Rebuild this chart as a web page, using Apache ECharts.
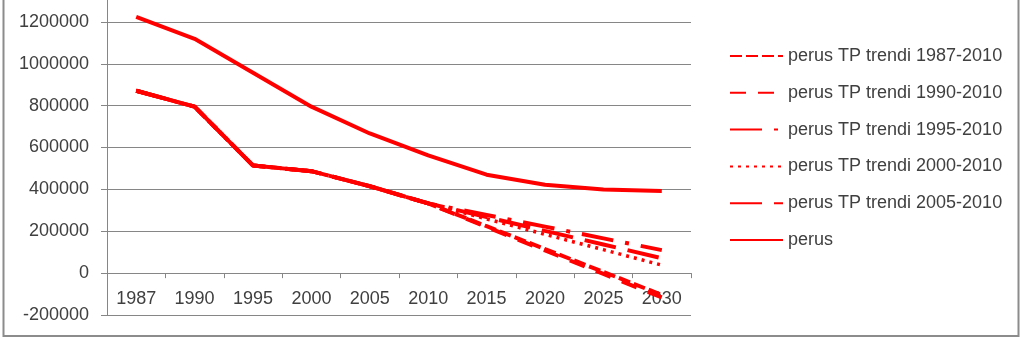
<!DOCTYPE html>
<html>
<head>
<meta charset="utf-8">
<script src="https://cdn.jsdelivr.net/npm/echarts@6/dist/echarts.min.js"></script>
<style>
html,body{margin:0;padding:0;background:#fff;}
#c{width:1024px;height:338px;}
</style>
</head>
<body>
<div id="c"></div>
<script>
const years = ['1987','1990','1995','2000','2005','2010','2015','2020','2025','2030'];
const perus = [1224000,1119000,957000,795000,667000,562000,470000,422000,399000,392000];
const trend1987 = [871000,795000,514000,487000,415000,333000,224000,115000,6000,-104000];
const trend1990 = [871000,795000,514000,487000,415000,333000,220000,108000,-4000,-116000];
const trend1995 = [871000,795000,514000,487000,415000,333000,278000,222000,166000,110000];
const trend2000 = [871000,795000,514000,487000,415000,333000,259000,185000,112000,38000];
const trend2005 = [871000,795000,514000,487000,415000,333000,268000,202000,137000,71000];
const yTicks = {min:-200000, max:1400000, interval:200000};

const RED = '#ff0000';
const FONT = 'Liberation Sans';
function mk(name, data, type, width) {
  return {
    name: name, type: 'line', data: data, symbol: 'none', showSymbol: false,
    lineStyle: {color: RED, width: width || 4, type: type, cap: 'butt'},
    itemStyle: {color: RED},
    animation: false
  };
}
const chart = echarts.init(document.getElementById('c'), null, {renderer:'canvas'});
chart.setOption({
  backgroundColor: '#fff',
  animation: false,
  grid: {left: 107, right: 333, top: -20, bottom: 23, containLabel: false, outerBoundsMode: 'none'},
  xAxis: [{
    type: 'category', data: years, boundaryGap: true,
    axisLine: {onZero: true, lineStyle: {color: '#868686', width: 1}},
    axisTick: {show: true, length: 5, interval: 0, lineStyle: {color: '#868686'}},
    axisLabel: {show: false},
    splitLine: {show: false}
  }, {
    type: 'category', data: years, boundaryGap: true, position: 'bottom',
    axisLine: {show: false, onZero: false},
    axisTick: {show: false},
    axisLabel: {color: '#404040', fontFamily: FONT, fontSize: 18, margin: -25, interval: 0},
    splitLine: {show: false}
  }],
  yAxis: {
    type: 'value', min: yTicks.min, max: yTicks.max, interval: yTicks.interval,
    axisLine: {show: true, lineStyle: {color: '#868686', width: 1}},
    axisTick: {show: true, length: 6, lineStyle: {color: '#868686'}},
    axisLabel: {color: '#404040', fontFamily: FONT, fontSize: 18, margin: 18, formatter: v => String(v)},
    splitLine: {show: true, lineStyle: {color: '#868686', width: 1}}
  },
  legend: {
    orient: 'vertical', left: 724, top: 42,
    itemWidth: 53, itemHeight: 18, itemGap: 18.8,
    itemStyle: {opacity: 0, borderWidth: 0},
    textStyle: {color: '#404040', fontFamily: FONT, fontSize: 18},
    data: ['perus TP trendi 1987-2010','perus TP trendi 1990-2010','perus TP trendi 1995-2010','perus TP trendi 2000-2010','perus TP trendi 2005-2010','perus']
  },
  graphic: [{
    type: 'rect', silent: true, z: 100,
    shape: {x: 3.5, y: -10, width: 1015, height: 346},
    style: {fill: 'none', stroke: '#8c8c8c', lineWidth: 2}
  }],
  series: [
    mk('perus TP trendi 1987-2010', trend1987, [12,4]),
    mk('perus TP trendi 1990-2010', trend1990, [16,12]),
    mk('perus TP trendi 1995-2010', trend1995, [32,12,4,12]),
    mk('perus TP trendi 2000-2010', trend2000, [3,5], 3.5),
    mk('perus TP trendi 2005-2010', trend2005, [32,12]),
    mk('perus', perus, 'solid')
  ]
});
</script>
</body>
</html>
